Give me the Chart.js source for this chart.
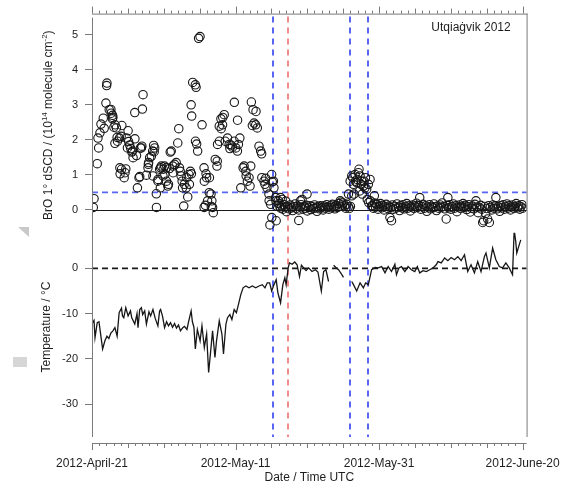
<!DOCTYPE html>
<html>
<head>
<meta charset="utf-8">
<script src="https://cdn.jsdelivr.net/npm/chart.js@4.4.1/dist/chart.umd.min.js"></script>
<style>
  html, body { margin: 0; padding: 0; background: #ffffff; }
  #wrap { width: 565px; height: 488px; }
</style>
</head>
<body>
<div id="wrap"><canvas id="c" width="565" height="488"></canvas></div>
<script>
// ---- Data: days since 2012-04-21 00 UTC ----

// BrO 1° differential slant column densities, [day, 10^14 molecule cm^-2]
const broObs = [
  [0.18,0.07],[0.28,0.32],[0.73,1.32],[0.83,2.05],[0.93,1.77],[1.11,2.20],[1.25,2.45],[1.57,2.62],[1.70,2.33],[1.94,3.05],
  [2.04,3.55],[2.08,3.62],[2.40,2.86],[2.63,2.87],[2.68,2.76],[2.84,2.60],[2.87,2.70],[2.91,2.64],[3.05,2.36],[3.19,1.90],
  [3.22,2.43],[3.40,2.34],[3.50,2.07],[3.55,1.96],[3.83,2.05],[3.88,1.20],[3.92,1.03],[4.06,2.10],[4.16,2.41],[4.12,1.16],
  [4.48,0.92],[4.60,1.06],[4.71,1.17],[4.81,2.05],[4.94,1.77],[5.03,2.26],[5.10,1.95],[5.25,1.85],[5.40,1.75],[5.55,1.65],
  [5.64,1.68],[5.72,1.49],[5.96,2.78],[5.98,2.03],[6.20,1.55],[6.33,0.63],[6.55,0.92],[6.65,0.95],[6.75,1.77],[6.88,1.77],
  [6.95,1.82],[7.02,2.88],[7.11,3.29],[7.58,0.99],[7.80,1.20],[7.85,1.30],[7.89,1.35],[8.03,1.49],[8.27,1.53],[8.49,0.97],
  [8.45,1.68],[8.59,1.84],[8.66,1.66],[8.73,1.77],[8.96,0.46],[8.98,0.07],[9.18,0.82],[9.20,0.87],[9.42,1.16],[9.52,0.63],
  [9.55,1.20],[9.65,1.25],[9.88,0.97],[9.92,1.16],[10.11,1.25],[10.15,1.01],[10.35,1.20],[10.38,0.82],[10.57,0.68],[10.66,0.73],
  [10.80,1.18],[10.90,1.65],[11.04,1.68],[11.26,1.25],[11.30,1.06],[11.50,1.30],[11.73,1.35],[11.95,1.91],[12.09,2.32],[12.19,1.20],
  [12.30,1.10],[12.42,0.97],[12.56,0.82],[12.62,0.63],[12.78,0.11],[12.86,0.73],[13.12,0.63],[13.20,0.92],[13.34,0.37],[13.50,1.01],
  [13.57,0.73],[13.71,1.10],[13.81,3.00],[13.85,1.03],[13.89,2.68],[14.03,3.64],[14.40,3.57],[14.42,1.96],[14.50,3.50],[14.58,1.88],
  [14.72,1.68],[14.85,4.90],[15.05,4.95],[15.33,2.43],[15.61,1.20],[15.62,0.07],[15.65,0.82],[15.79,0.13],[15.89,1.03],[15.97,0.92],
  [16.10,0.26],[16.34,0.49],[16.36,0.92],[16.58,0.45],[16.62,0.10],[16.70,0.26],[16.80,0.07],[16.90,-0.08],[17.17,1.44],[17.41,1.25],
  [17.45,1.39],[17.49,1.87],[17.73,2.39],[17.75,1.96],[17.96,2.60],[18.00,2.32],[18.19,2.43],[18.22,2.64],[18.42,2.72],[18.56,1.96],
  [18.88,2.05],[19.11,1.87],[19.21,1.75],[19.35,1.85],[19.57,1.79],[19.81,1.96],[19.83,3.07],[20.04,1.77],[20.26,1.68],[20.28,2.56],
  [20.40,1.87],[20.60,2.05],[20.73,0.63],[21.05,1.20],[21.19,1.25],[21.43,1.10],[21.48,0.97],[21.65,0.82],[21.88,0.92],[22.02,0.68],
  [22.12,1.25],[22.20,3.08],[22.34,2.41],[22.44,2.86],[22.58,2.48],[22.81,2.43],[22.85,2.81],[23.03,2.34],[23.27,1.82],[23.50,1.68],
  [23.64,1.60],[23.66,0.92],[23.96,0.82],[24.10,0.73],[24.20,0.90],[24.38,0.63],[24.65,0.45],[24.68,0.26],[24.79,-0.43],[24.89,0.16],
  [25.03,1.01],[25.05,-0.22],[25.11,0.80],[25.28,0.82],[25.35,0.63],[25.58,0.35],[25.62,0.26],[25.66,-0.31],[25.76,0.11],[25.97,0.26],
  // after 16 May: background levels
  [26.05,0.18],[26.18,0.09],[26.27,0.35],[26.30,0.05],[26.45,0.12],[26.50,0.30],[26.60,0.02],[26.80,0.15],[26.95,0.08],[27.00,0.25],
  [27.10,-0.05],[27.25,0.10],[27.45,0.03],[27.60,0.14],[27.80,0.06],[27.95,-0.02],[28.10,0.09],[28.30,0.17],[28.45,0.04],[28.60,0.11],
  [28.80,0.00],[28.81,-0.30],[29.00,0.08],[29.04,0.26],[29.15,0.15],[29.27,0.30],[29.40,0.02],[29.55,0.10],[29.70,0.05],[29.85,0.13],
  [29.96,0.45],[30.00,-0.03],[30.20,0.07],[30.35,0.12],[30.50,0.01],[30.70,0.09],[30.85,0.04],[31.00,0.14],[31.20,0.06],[31.35,-0.04],
  [31.50,0.10],[31.70,0.03],[31.85,0.12],[32.00,0.07],[32.20,0.00],[32.35,0.11],[32.50,0.05],[32.70,0.15],[32.85,0.08],[33.00,0.02],
  [33.20,0.12],[33.35,0.06],[33.50,0.16],[33.70,0.09],[33.85,0.03],[34.00,0.13],[34.20,0.07],[34.35,0.18],[34.50,0.10],[34.58,0.26],
  [34.70,0.22],[34.85,0.14],[35.00,0.20],[35.20,0.12],[35.35,0.05],[35.50,0.16],[35.70,0.09],[35.73,0.45],[35.85,0.04],[35.97,0.82],
  [36.00,0.10],[36.19,0.40],[36.19,0.97],[36.33,0.92],[36.43,0.73],[36.50,0.45],[36.66,1.01],[36.70,0.82],[36.88,0.78],[36.95,0.87],
  [37.12,1.06],[37.20,1.16],[37.30,0.54],[37.35,0.97],[37.50,0.73],[37.58,0.82],[37.65,0.45],[37.81,0.68],[37.90,0.82],[38.04,0.63],
  [38.10,0.92],[38.27,0.59],[38.35,0.30],[38.50,0.73],[38.55,0.21],[38.74,0.87],[38.78,0.26],[39.00,0.12],[39.06,0.11],[39.20,0.05],
  [39.34,0.40],[39.35,0.20],[39.50,0.08],[39.60,0.17],[39.70,0.15],[39.85,0.02],[40.00,0.10],[40.20,0.18],[40.35,0.06],[40.50,0.13],
  [40.70,0.00],[40.85,0.09],[41.00,0.16],[41.20,0.04],[41.35,0.11],[41.51,-0.22],[41.60,0.07],[41.73,-0.31],[41.85,0.14],[42.00,0.02],
  [42.20,0.10],[42.35,0.05],[42.50,0.17],[42.70,0.08],[42.85,-0.02],[43.00,0.12],[43.20,0.06],[43.35,0.15],[43.50,0.03],[43.70,0.10],
  [43.85,0.18],[44.00,0.05],[44.20,0.12],[44.35,-0.03],[44.50,0.08],[44.70,0.14],[44.85,0.04],[45.00,0.11],[45.20,0.19],[45.35,0.07],
  [45.50,0.13],[45.66,0.35],[45.80,0.02],[46.00,0.09],[46.15,0.16],[46.30,0.05],[46.50,0.12],[46.65,-0.04],[46.80,0.08],[47.00,0.15],
  [47.15,0.03],[47.30,0.10],[47.50,0.06],[47.65,0.17],[47.80,0.09],[48.00,-0.02],[48.15,0.11],[48.30,0.05],[48.50,0.14],[48.65,0.07],
  [48.80,0.20],[49.00,0.10],[49.15,0.03],[49.35,-0.26],[49.50,0.13],[49.58,0.35],[49.70,0.06],[49.85,0.15],[50.00,0.02],[50.20,0.09],
  [50.35,0.17],[50.50,0.05],[50.70,0.12],[50.85,-0.05],[51.00,0.08],[51.20,0.14],[51.35,0.04],[51.50,0.10],[51.70,0.18],[51.85,0.07],
  [52.00,0.13],[52.20,0.01],[52.35,0.09],[52.50,0.15],[52.70,-0.06],[52.85,0.05],[53.00,0.11],[53.20,0.03],[53.35,0.16],[53.50,0.26],
  [53.65,0.08],[53.80,-0.08],[54.00,0.06],[54.15,0.13],[54.30,0.02],[54.43,-0.36],[54.57,-0.31],[54.70,0.10],[54.85,-0.10],[55.00,0.04],
  [55.12,-0.26],[55.25,0.12],[55.36,-0.36],[55.50,0.07],[55.70,0.00],[55.85,0.14],[56.00,0.05],[56.15,0.11],[56.27,0.35],[56.45,0.03],
  [56.60,0.09],[56.80,-0.04],[56.95,0.12],[57.10,0.06],[57.30,0.15],[57.45,0.02],[57.60,0.10],[57.80,0.17],[57.95,0.05],[58.10,0.12],
  [58.30,0.00],[58.45,0.08],[58.60,0.14],[58.80,0.04],[58.95,0.10],[59.10,0.18],[59.30,0.06],[59.45,0.12],[59.60,0.02],[59.75,0.09],
  [59.90,0.15],[60.00,0.05]
];

// Air temperature, [day, °C]; null marks a data gap
const tempObs = [
  [0.10,-12.0],[0.28,-11.5],[0.42,-15.3],[0.73,-12.0],[0.97,-11.8],[1.48,-17.8],[1.80,-16.0],[2.08,-15.0],[2.35,-15.5],[2.63,-14.3],
  [2.91,-13.8],[3.19,-13.1],[3.50,-15.0],[3.78,-9.8],[4.11,-8.8],[4.25,-10.5],[4.43,-10.9],[4.71,-8.7],[5.03,-10.5],[5.36,-9.4],
  [5.54,-10.9],[5.96,-12.3],[6.27,-10.0],[6.41,-13.1],[6.65,-9.1],[6.88,-8.7],[7.06,-10.2],[7.34,-9.4],[7.58,-12.3],[7.94,-9.6],
  [8.17,-10.5],[8.49,-9.1],[8.80,-11.0],[9.18,-12.7],[9.42,-9.4],[9.56,-9.1],[9.83,-10.6],[10.11,-13.1],[10.39,-11.8],[10.66,-12.7],
  [10.94,-12.0],[11.22,-13.0],[11.50,-12.2],[11.77,-13.2],[12.05,-12.5],[12.33,-13.8],[12.65,-13.1],[12.88,-12.8],[13.23,-13.5],[13.43,-12.0],
  [13.81,-9.4],[13.99,-11.8],[14.20,-13.0],[14.40,-17.8],[14.68,-13.5],[15.06,-16.0],[15.32,-12.7],[15.65,-17.5],[15.97,-14.5],[16.25,-23.0],
  [16.58,-17.5],[16.80,-13.8],[17.13,-19.7],[17.35,-16.0],[17.73,-11.6],[18.10,-14.5],[18.32,-18.9],[18.66,-12.3],[18.88,-10.9],[19.21,-10.2],
  [19.49,-11.3],[19.81,-9.1],[20.12,-9.8],[20.40,-8.0],[20.73,-5.8],[21.05,-4.3],[21.43,-3.9],[21.88,-4.3],[22.34,-3.9],[22.81,-4.3],
  [23.27,-3.9],[23.73,-3.6],[24.10,-4.3],[24.42,-3.2],[24.75,-3.2],[25.03,-5.0],[25.35,-3.6],[25.66,-2.5],[25.90,-5.4],[26.27,-7.6],
  [26.59,-3.6],[26.87,-2.1],[27.05,-3.6],[27.33,0.1],[27.52,1.2],[27.88,0.9],[28.25,1.4],[28.57,0.8],[28.91,-1.8],[29.18,0.7],
  [29.50,0.1],[29.82,-0.5],[30.19,0.1],[30.65,-0.7],[31.12,-0.3],[31.48,-0.8],[31.95,-5.0],[32.27,-0.7],[32.59,-0.3],[32.96,-2.9],
  [33.30,null],[33.66,0.7],[33.98,0.2],[34.35,-0.3],[34.81,-1.4],[35.04,-2.0],[35.60,null],[36.19,-2.9],[36.43,-3.6],[36.88,-5.0],
  [37.35,-3.2],[37.81,-4.3],[38.13,-3.2],[38.50,-3.6],[38.96,-0.3],[39.43,0.2],[39.89,0.1],[40.35,0.4],[40.82,-1.0],[41.27,0.4],
  [41.73,-0.7],[42.20,0.9],[42.42,-1.4],[42.76,0.1],[43.12,0.4],[43.59,-0.7],[44.04,0.4],[44.50,-0.3],[44.97,-0.7],[45.33,0.4],
  [45.66,-1.0],[46.12,-0.5],[46.58,-0.7],[47.05,-0.3],[47.51,0.1],[47.96,0.8],[48.20,1.5],[48.66,1.2],[49.13,2.3],[49.58,1.7],
  [50.04,2.4],[50.51,1.9],[50.97,2.6],[51.43,1.7],[51.90,3.0],[52.35,-0.7],[52.81,0.8],[53.28,-1.0],[53.74,1.5],[54.20,-0.7],
  [54.67,2.6],[54.89,3.4],[55.36,0.1],[55.82,4.5],[56.27,1.9],[56.75,0.4],[57.20,0.1],[57.66,1.2],[58.13,0.1],[58.59,-1.4],
  [58.82,8.5],[59.04,5.9],[59.18,3.4],[59.52,5.2],[59.74,6.3]
];

// Event markers (days) and BrO detection threshold
const blueMarkerDays = [25.2, 36.0, 38.5];
const redMarkerDays = [27.25];
const broThreshold = 0.5;

// Axis ticks and labels
const dateTickDays = [0, 20, 40, 60];
const dateTickLabels = ['2012-April-21', '2012-May-11', '2012-May-31', '2012-June-20'];
const broTicks = [0, 1, 2, 3, 4, 5];
const tempTicks = [0, -10, -20, -30];

const stationLabel = 'Utqiaġvik 2012';
const xTitle = 'Date / Time UTC';
const broTitleParts = [
  { t: 'BrO 1° dSCD / (10' }, { t: '14', sup: true }, { t: ' molecule cm' }, { t: '-2', sup: true }, { t: ')' }
];
const tempTitle = 'Temperature / °C';

// ---- Styling ----
const FONT = '"Liberation Sans", Arial, Helvetica, sans-serif';
const AXIS = '#7a7a7a';
const TEXT = '#1e1e1e';
const BLUE = 'rgba(70, 85, 240, 0.9)';
const RED = 'rgba(238, 120, 120, 0.85)';

function drawRotatedRich(ctx, parts, cx, cy, size) {
  ctx.save();
  ctx.translate(cx, cy);
  ctx.rotate(-Math.PI / 2);
  const base = size + 'px ' + FONT;
  const sup = Math.round(size * 0.68) + 'px ' + FONT;
  let total = 0;
  for (const p of parts) { ctx.font = p.sup ? sup : base; total += ctx.measureText(p.t).width; }
  let x = -total / 2;
  ctx.textAlign = 'left';
  ctx.textBaseline = 'alphabetic';
  ctx.fillStyle = TEXT;
  for (const p of parts) {
    ctx.font = p.sup ? sup : base;
    ctx.fillText(p.t, x, p.sup ? 4 - size * 0.42 : 4);
    x += ctx.measureText(p.t).width;
  }
  ctx.restore();
}

const framePlugin = {
  id: 'frame',
  beforeDatasetsDraw(chart) {
    const { ctx, chartArea: a, scales } = chart;
    const x = scales.x, yB = scales.yBro, yT = scales.yTemp;
    ctx.save();
    // BrO zero line
    ctx.strokeStyle = '#1a1a1a';
    ctx.lineWidth = 1;
    ctx.beginPath();
    const y0 = Math.round(yB.getPixelForValue(0)) + 0.5;
    ctx.moveTo(a.left, y0); ctx.lineTo(a.right, y0); ctx.stroke();
    // Temperature zero line
    ctx.setLineDash([6, 4]);
    ctx.lineWidth = 1.6;
    ctx.beginPath();
    const t0 = yT.getPixelForValue(0);
    ctx.moveTo(a.left, t0); ctx.lineTo(a.right, t0); ctx.stroke();
    // Threshold
    ctx.strokeStyle = BLUE;
    ctx.lineWidth = 1.6;
    ctx.setLineDash([6, 4]);
    ctx.beginPath();
    const yth = yB.getPixelForValue(broThreshold);
    ctx.moveTo(a.left, yth); ctx.lineTo(a.right, yth); ctx.stroke();
    // Event markers
    ctx.lineWidth = 2;
    ctx.setLineDash([6, 5]);
    const drawV = (d, col) => {
      const px = Math.round(x.getPixelForValue(d));
      ctx.strokeStyle = col;
      ctx.beginPath();
      ctx.moveTo(px, a.top + 3); ctx.lineTo(px, a.bottom - 6); ctx.stroke();
    };
    blueMarkerDays.forEach(d => drawV(d, BLUE));
    redMarkerDays.forEach(d => drawV(d, RED));
    ctx.restore();
  },
  afterDraw(chart) {
    const { ctx, chartArea: a, scales } = chart;
    const x = scales.x, yB = scales.yBro, yT = scales.yTemp;
    ctx.save();
    ctx.strokeStyle = AXIS;
    ctx.lineWidth = 1;
    ctx.setLineDash([]);
    // frame: left axis, right edge, top and bottom axes
    ctx.beginPath();
    ctx.moveTo(a.left + 0.5, a.top + 4); ctx.lineTo(a.left + 0.5, a.bottom - 6);
    ctx.moveTo(a.right + 0.5, a.top); ctx.lineTo(a.right + 0.5, a.bottom - 6);
    ctx.moveTo(a.left, a.top + 0.5); ctx.lineTo(a.right + 1, a.top + 0.5);
    ctx.moveTo(a.left, a.bottom + 0.5); ctx.lineTo(a.right, a.bottom + 0.5);
    ctx.stroke();
    // daily ticks on top and bottom date axes
    ctx.beginPath();
    for (let d = 0; d <= Math.floor(x.max); d++) {
      const px = Math.round(x.getPixelForValue(d)) + 0.5;
      const len = d % 20 === 0 ? 7 : (d % 5 === 0 ? 5 : 3);
      ctx.moveTo(px, a.top); ctx.lineTo(px, a.top - len);
      ctx.moveTo(px, a.bottom); ctx.lineTo(px, a.bottom + len);
    }
    ctx.stroke();
    // axis titles
    drawRotatedRich(ctx, broTitleParts, 48, (yB.top + yB.bottom) / 2 + 2, 12);
    drawRotatedRich(ctx, [{ t: tempTitle }], 45.5, 327, 12);
    // station label
    ctx.font = '12px ' + FONT;
    ctx.fillStyle = TEXT;
    ctx.textAlign = 'center';
    ctx.textBaseline = 'middle';
    ctx.fillText(stationLabel, 471, 28);
    // page marks at the left margin
    ctx.fillStyle = '#c9c9c9';
    ctx.beginPath();
    ctx.moveTo(18, 227); ctx.lineTo(29, 227); ctx.lineTo(29, 237); ctx.closePath();
    ctx.fill();
    ctx.fillStyle = '#d6d6d6';
    ctx.fillRect(13, 357, 14, 10);
    ctx.restore();
  }
};

const yTickCommon = {
  font: { family: FONT, size: 11 },
  color: TEXT,
  padding: 7
};

new Chart(document.getElementById('c'), {
  type: 'scatter',
  data: {
    datasets: [
      {
        label: 'BrO',
        data: broObs.map(([d, v]) => ({ x: d, y: v })),
        yAxisID: 'yBro',
        showLine: false,
        pointStyle: 'circle',
        pointRadius: 4.2,
        pointBorderWidth: 1.1,
        pointBorderColor: '#161616',
        pointBackgroundColor: 'rgba(0,0,0,0)'
      },
      {
        label: 'Temperature',
        type: 'line',
        data: tempObs.map(([d, t]) => ({ x: d, y: t })),
        yAxisID: 'yTemp',
        borderColor: '#161616',
        borderWidth: 1.3,
        pointRadius: 0,
        tension: 0,
        spanGaps: false
      }
    ]
  },
  options: {
    responsive: false,
    animation: false,
    devicePixelRatio: 1,
    layout: { padding: { left: 0, right: 36, top: 12, bottom: 0 } },
    plugins: { legend: { display: false }, tooltip: { enabled: false } },
    scales: {
      x: {
        type: 'linear',
        position: 'bottom',
        min: 0,
        max: 60.55,
        afterFit(s) { s.height = 45; },
        afterBuildTicks(s) { s.ticks = dateTickDays.map(v => ({ value: v })); },
        ticks: {
          autoSkip: false,
          maxRotation: 0,
          padding: 5,
          font: { family: FONT, size: 12 },
          color: TEXT,
          callback: (v, i) => dateTickLabels[i]
        },
        grid: { display: true, drawOnChartArea: false, drawTicks: true, tickLength: 8, color: 'rgba(0,0,0,0)', tickColor: 'rgba(0,0,0,0)' },
        border: { display: false },
        title: {
          display: true,
          text: xTitle,
          color: TEXT,
          font: { family: FONT, size: 12 },
          padding: { top: 0, bottom: 3 }
        }
      },
      yBro: {
        type: 'linear',
        position: 'left',
        stack: 'panels',
        stackWeight: 220,
        weight: 2,
        min: -0.654,
        max: 5.605,
        afterFit(s) { s.width = 92; },
        afterBuildTicks(s) { s.ticks = broTicks.map(v => ({ value: v })); },
        ticks: yTickCommon,
        grid: { display: true, drawOnChartArea: false, drawTicks: true, tickLength: 7, tickColor: AXIS, color: AXIS },
        border: { display: false }
      },
      yTemp: {
        type: 'linear',
        position: 'left',
        stack: 'panels',
        stackWeight: 211,
        weight: 1,
        min: -38.58,
        max: 7.86,
        afterFit(s) { s.width = 92; },
        afterBuildTicks(s) { s.ticks = tempTicks.map(v => ({ value: v })); },
        ticks: yTickCommon,
        grid: { display: true, drawOnChartArea: false, drawTicks: true, tickLength: 7, tickColor: AXIS, color: AXIS },
        border: { display: false }
      }
    }
  },
  plugins: [framePlugin]
});
</script>
</body>
</html>
